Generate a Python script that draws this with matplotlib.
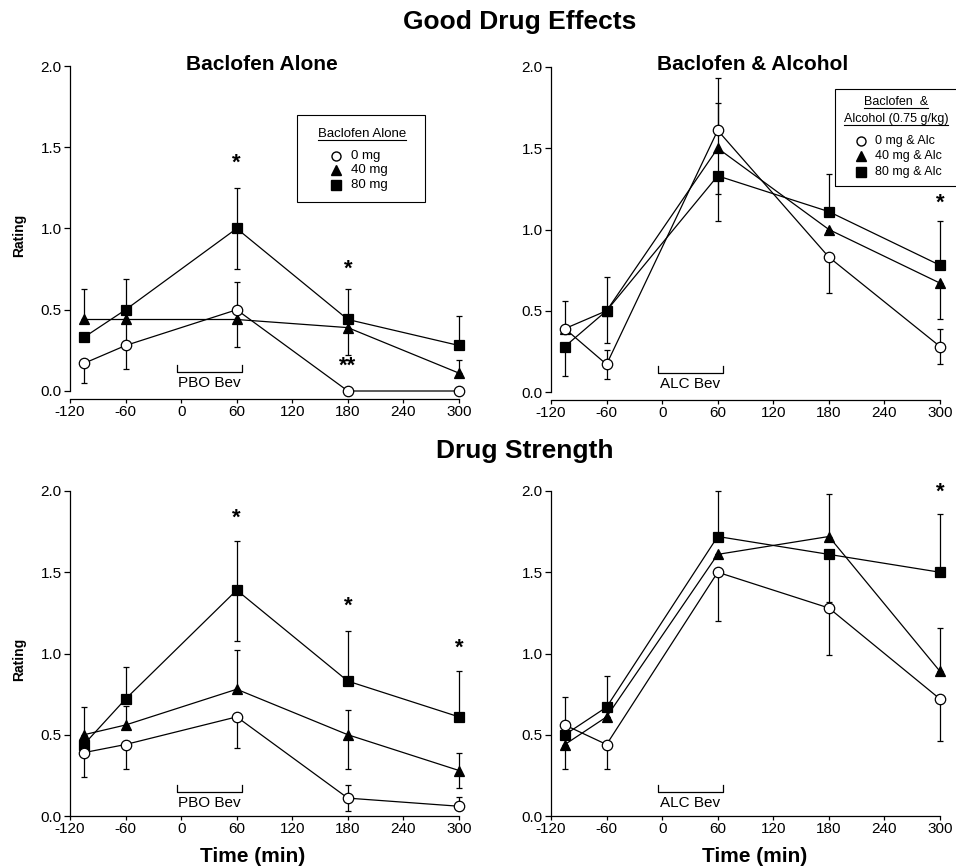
import numpy as np
import matplotlib
matplotlib.use("Agg")
import matplotlib.pyplot as plt
from matplotlib.lines import Line2D
from matplotlib.patches import Rectangle

plt.rcParams['font.family'] = ['Liberation Sans', 'DejaVu Sans']
plt.rcParams['axes.unicode_minus'] = False

W, H = 956, 867

# time points (min)
times = [-105, -60, 60, 180, 300]

# Good Drug Effects - Baclofen Alone
gde_alone_0 = [0.17, 0.28, 0.50, 0.00, 0.00]
gde_alone_40 = [0.44, 0.44, 0.44, 0.39, 0.11]
gde_alone_80 = [0.33, 0.50, 1.00, 0.44, 0.28]
gde_alone_0_err = ([0.12, 0.145, 0.0, 0.0, 0.0], [0.0, 0.0, 0.17, 0.0, 0.0])
gde_alone_40_err = ([0.0, 0.13, 0.17, 0.17, 0.0], [0.19, 0.0, 0.0, 0.0, 0.08])
gde_alone_80_err = ([0.0, 0.0, 0.25, 0.0, 0.0], [0.0, 0.19, 0.25, 0.19, 0.18])

# Good Drug Effects - Baclofen & Alcohol
gde_alc_0 = [0.39, 0.17, 1.61, 0.83, 0.28]
gde_alc_40 = [0.39, 0.50, 1.50, 1.00, 0.67]
gde_alc_80 = [0.28, 0.50, 1.33, 1.11, 0.78]
gde_alc_0_err = ([0.0, 0.09, 0.0, 0.22, 0.11], [0.17, 0.09, 0.32, 0.0, 0.11])
gde_alc_40_err = ([0.0, 0.20, 0.28, 0.0, 0.22], [0.0, 0.0, 0.28, 0.0, 0.0])
gde_alc_80_err = ([0.18, 0.0, 0.28, 0.0, 0.0], [0.0, 0.21, 0.0, 0.23, 0.27])

# Drug Strength - Baclofen Alone
ds_alone_0 = [0.39, 0.44, 0.61, 0.11, 0.06]
ds_alone_40 = [0.50, 0.56, 0.78, 0.50, 0.28]
ds_alone_80 = [0.44, 0.72, 1.39, 0.83, 0.61]
ds_alone_0_err = ([0.15, 0.15, 0.19, 0.08, 0.0], [0.0, 0.0, 0.0, 0.08, 0.06])
ds_alone_40_err = ([0.0, 0.0, 0.0, 0.21, 0.11], [0.17, 0.12, 0.24, 0.15, 0.11])
ds_alone_80_err = ([0.0, 0.0, 0.31, 0.0, 0.0], [0.0, 0.20, 0.30, 0.31, 0.28])

# Drug Strength - Baclofen & Alcohol
ds_alc_0 = [0.56, 0.44, 1.50, 1.28, 0.72]
ds_alc_40 = [0.44, 0.61, 1.61, 1.72, 0.89]
ds_alc_80 = [0.50, 0.67, 1.72, 1.61, 1.50]
ds_alc_0_err = ([0.0, 0.15, 0.30, 0.29, 0.26], [0.17, 0.0, 0.0, 0.0, 0.0])
ds_alc_40_err = ([0.15, 0.0, 0.0, 0.0, 0.0], [0.0, 0.0, 0.0, 0.26, 0.27])
ds_alc_80_err = ([0.0, 0.0, 0.0, 0.29, 0.0], [0.0, 0.19, 0.28, 0.0, 0.36])

# significance marks (x, y, text)
stars_gde_alone = [(60, 1.40, '*'), (180, 0.75, '*'), (180, 0.15, '**')]
stars_gde_alc = [(300, 1.16, '*')]
stars_ds_alone = [(60, 1.83, '*'), (180, 1.29, '*'), (300, 1.03, '*')]
stars_ds_alc = [(300, 1.99, '*')]

x_ticks = [-120, -60, 0, 60, 120, 180, 240, 300]
y_ticks = [0.0, 0.5, 1.0, 1.5, 2.0]


def fx(x):
    return x / W


def fy(y):
    return 1 - y / H


def box(l, t, r, b):
    return [l / W, 1 - b / H, (r - l) / W, (b - t) / H]


fig = plt.figure(figsize=(W / 100, H / 100), dpi=100)

axA = fig.add_axes(box(70, 66, 459, 391))
axB = fig.add_axes(box(551, 67, 940, 392))
axC = fig.add_axes(box(70, 491, 459, 816))
axD = fig.add_axes(box(551, 491, 940, 816))

panels = [
    (axA, gde_alone_0, gde_alone_40, gde_alone_80,
     gde_alone_0_err, gde_alone_40_err, gde_alone_80_err, stars_gde_alone, 'PBO Bev', True, 0.115),
    (axB, gde_alc_0, gde_alc_40, gde_alc_80,
     gde_alc_0_err, gde_alc_40_err, gde_alc_80_err, stars_gde_alc, 'ALC Bev', True, 0.115),
    (axC, ds_alone_0, ds_alone_40, ds_alone_80,
     ds_alone_0_err, ds_alone_40_err, ds_alone_80_err, stars_ds_alone, 'PBO Bev', False, 0.145),
    (axD, ds_alc_0, ds_alc_40, ds_alc_80,
     ds_alc_0_err, ds_alc_40_err, ds_alc_80_err, stars_ds_alc, 'ALC Bev', False, 0.148),
]

for ax, v0, v40, v80, e0, e40, e80, stars, bev, offset, bry in panels:
    series = [(v40, e40, '^', 'black', 7.5),
              (v80, e80, 's', 'black', 7),
              (v0, e0, 'o', 'white', 7.5)]
    for vals, err, mk, face, ms in series:
        ax.errorbar(times, vals, yerr=[err[0], err[1]], fmt='none', ecolor='black',
                    elinewidth=0.9, capsize=2, capthick=0.9, clip_on=False, zorder=2)
        ax.plot(times, vals, color='black', lw=0.9, marker=mk, mfc=face, mec='black',
                mew=0.9, ms=ms, clip_on=False, zorder=3)
    for sx, sy, st in stars:
        ax.text(sx, sy, st, ha='center', va='center', fontsize=16, fontweight='bold')

    # beverage bracket
    ax.plot([-4, -4, 66, 66], [bry + 0.045, bry, bry, bry + 0.045], color='black', lw=0.9)
    ax.text(30, bry - 0.068, bev, ha='center', va='center', fontsize=11)

    ax.set_xlim(-120, 300)
    ax.set_ylim(0, 2)
    ax.set_xticks(x_ticks)
    ax.set_yticks(y_ticks)
    ax.set_yticklabels(['%.1f' % t for t in y_ticks])
    for s in ['top', 'right']:
        ax.spines[s].set_visible(False)
    ax.spines['left'].set_linewidth(0.9)
    ax.spines['bottom'].set_linewidth(0.9)
    if offset:
        ax.spines['bottom'].set_position(('outward', 6))
    ax.spines['left'].set_bounds(0, 2)
    ax.tick_params(axis='y', direction='out', length=4, width=0.9, pad=2, labelsize=11)
    ax.tick_params(axis='x', direction='out', length=3, width=0.9, pad=1, labelsize=11)

# titles
fig.text(fx(520), fy(22), 'Good Drug Effects', ha='center', va='center', fontsize=19, fontweight='bold')
fig.text(fx(525), fy(451), 'Drug Strength', ha='center', va='center', fontsize=19, fontweight='bold')
fig.text(fx(262), fy(64), 'Baclofen Alone', ha='center', va='center', fontsize=15, fontweight='bold')
fig.text(fx(753), fy(64), 'Baclofen & Alcohol', ha='center', va='center', fontsize=15, fontweight='bold')

fig.text(fx(19), fy(235), 'Rating', rotation=90, ha='center', va='center', fontsize=10, fontweight='bold')
fig.text(fx(19), fy(659), 'Rating', rotation=90, ha='center', va='center', fontsize=10, fontweight='bold')
fig.text(fx(253), fy(857), 'Time (min)', ha='center', va='center', fontsize=15, fontweight='bold')
fig.text(fx(755), fy(857), 'Time (min)', ha='center', va='center', fontsize=15, fontweight='bold')

# legends drawn by hand
legend_alone_title = ['Baclofen Alone']
legend_alone_labels = ['0 mg', '40 mg', '80 mg']
legend_alc_title = ['Baclofen  &', 'Alcohol (0.75 g/kg)']
legend_alc_labels = ['0 mg & Alc', '40 mg & Alc', '80 mg & Alc']
legend_markers = [('o', 'white'), ('^', 'black'), ('s', 'black')]
LEG_FS = 9.5

fig.add_artist(Rectangle((fx(297), fy(202)), (425 - 297) / W, (202 - 115) / H,
                         fill=False, lw=0.8, ec='black', transform=fig.transFigure))
fig.add_artist(Rectangle((fx(835), fy(186)), (965 - 835) / W, (186 - 89) / H,
                         fill=False, lw=0.8, ec='black', transform=fig.transFigure))

title_texts = []
for line, (cx, cy) in zip(legend_alone_title, [(362, 134)]):
    title_texts.append(fig.text(fx(cx), fy(cy), line, ha='center', va='center', fontsize=LEG_FS))
for line, (cx, cy) in zip(legend_alc_title, [(896, 102), (896, 119)]):
    title_texts.append(fig.text(fx(cx), fy(cy), line, ha='center', va='center', fontsize=9))

for (mk, face), lab, yy in zip(legend_markers, legend_alone_labels, [156, 170, 185]):
    fig.add_artist(Line2D([fx(336)], [fy(yy)], marker=mk, mfc=face, mec='black', ms=6.5,
                          transform=fig.transFigure))
    fig.text(fx(351), fy(yy), lab, ha='left', va='center', fontsize=LEG_FS)
for (mk, face), lab, yy in zip(legend_markers, legend_alc_labels, [141, 156, 172]):
    fig.add_artist(Line2D([fx(861)], [fy(yy)], marker=mk, mfc=face, mec='black', ms=6.5,
                          transform=fig.transFigure))
    fig.text(fx(875), fy(yy), lab, ha='left', va='center', fontsize=9)

# underline the legend titles
fig.canvas.draw()
renderer = fig.canvas.get_renderer()
for t in title_texts:
    bb = t.get_window_extent(renderer).transformed(fig.transFigure.inverted())
    uy = bb.y0 + 0.1 / H
    fig.add_artist(Line2D([bb.x0, bb.x1], [uy, uy], color='black', lw=0.8, transform=fig.transFigure))

fig.savefig('out.png', dpi=100)
